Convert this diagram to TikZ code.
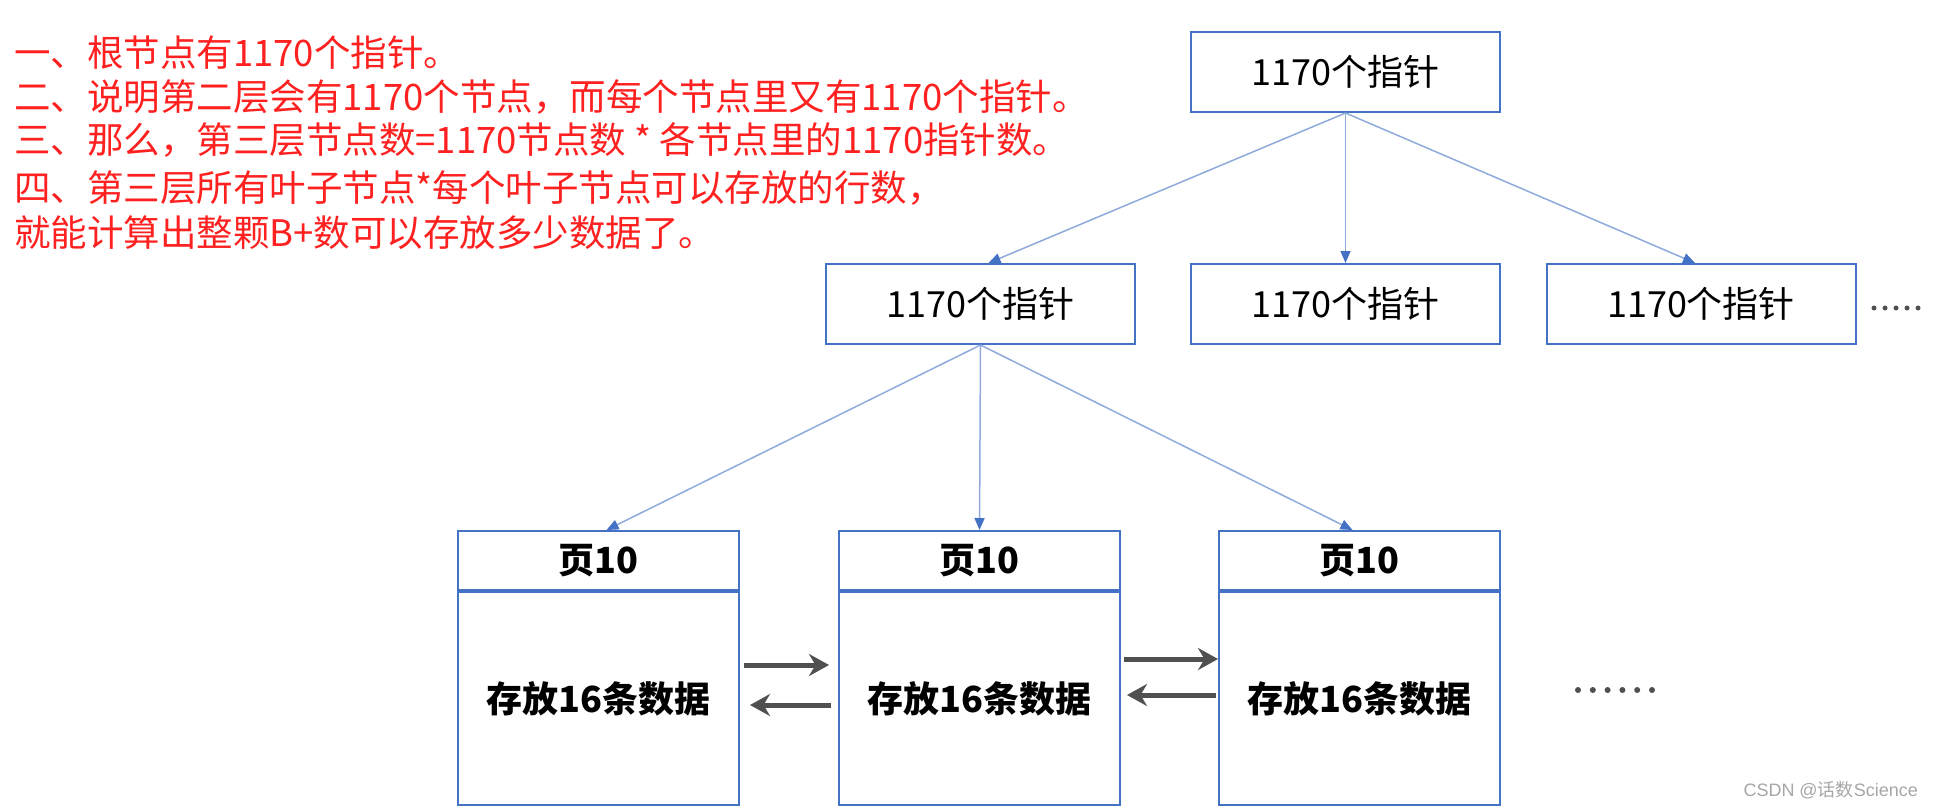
\documentclass[tikz,border=0pt]{standalone}
\usepackage{fontspec}
\setmainfont{Noto Sans CJK SC}
\newfontfamily\wmfont{Liberation Sans}
\usetikzlibrary{arrows.meta}
\definecolor{boxblue}{HTML}{4472C4}
\definecolor{lineblue}{HTML}{8FAADC}
\definecolor{notered}{HTML}{FF2020}
\definecolor{linkgray}{HTML}{505050}

\begin{document}
\begin{tikzpicture}[x=1pt, y=-1pt, >={Stealth[round]},
    box/.style={draw=boxblue, line width=2pt, minimum width=309pt, minimum height=80pt, font=\fontsize{36}{40}\selectfont},
    page/.style={draw=boxblue, line width=2pt, minimum width=281pt, font=\bfseries\fontsize{36}{40}\selectfont},
    note/.style={anchor=west, inner sep=0pt, text=notered, font=\fontsize{36.5}{40}\selectfont},
    ptr/.style={lineblue, line width=1.5pt, -{Triangle[length=12pt, width=10pt, color=boxblue]}},
    link/.style={linkgray, line width=5pt, -{Stealth[length=20pt, width=22pt]}}]
    \useasboundingbox (0,0) rectangle (1934,808);

    % Notes
    \node[note] (t1) at (14,53) {一、根节点有1170个指针。};
    \node[note] (t2) at (14,97) {二、说明第二层会有1170个节点，而每个节点里又有1170个指针。};
    \node[note] (t3) at (14,140) {三、那么，第三层节点数=1170节点数 * 各节点里的1170指针数。};
    \node[note] (t4) at (14,188) {四、第三层所有叶子节点*每个叶子节点可以存放的行数，};
    \node[note] (t5) at (14,233) {就能计算出整颗B+数可以存放多少数据了。};

    % Define tree nodes
    \node[box] (r0) at (1345.5,72) {1170个指针};
    \node[box] (n1) at (980.5,304) {1170个指针};
    \node[box] (n2) at (1345.5,304) {1170个指针};
    \node[box] (n3) at (1701,304) {1170个指针};
    \foreach \i in {0,...,4} \fill[linkgray] (1874+\i*11,308) circle (2.5);

    % Define pages
    \node[page, minimum height=59pt] (p1) at (598.5,560.5) {页10};
    \node[page, minimum height=213pt, anchor=north] (d1) at (p1.south) {存放16条数据};
    \node[page, minimum height=59pt] (p2) at (979.5,560.5) {页10};
    \node[page, minimum height=213pt, anchor=north] (d2) at (p2.south) {存放16条数据};
    \node[page, minimum height=59pt] (p3) at (1359.5,560.5) {页10};
    \node[page, minimum height=213pt, anchor=north] (d3) at (p3.south) {存放16条数据};
    \foreach \i in {0,...,5} \fill[linkgray] (1578+\i*14.8,690) circle (3);

    % Draw pointers
    \draw[ptr] (r0.south) -- ([xshift=8pt]n1.north);
    \draw[ptr] (r0.south) -- (n2.north);
    \draw[ptr] (r0.south) -- ([xshift=-6pt]n3.north);
    \draw[ptr] (n1.south) -- ([xshift=8pt]p1.north);
    \draw[ptr] (n1.south) -- (p2.north);
    \draw[ptr] (n1.south) -- ([xshift=-7pt]p3.north);

    % Draw page links
    \draw[link, shorten <=4pt, shorten >=9pt] ([yshift=33.5pt]d1.east) -- ([yshift=33.5pt]d2.west);
    \draw[link, shorten <=7pt, shorten >=10pt] ([yshift=-6.5pt]d2.west) -- ([yshift=-6.5pt]d1.east);
    \draw[link, shorten <=3pt] ([yshift=39.5pt]d2.east) -- ([yshift=39.5pt]d3.west);
    \draw[link, shorten <=2pt, shorten >=6pt] ([yshift=3.5pt]d3.west) -- ([yshift=3.5pt]d2.east);

    \node[anchor=east, inner sep=0pt, text=gray!70, font=\wmfont\fontsize{18}{20}\selectfont] (wm) at (1918,790) {CSDN @{\rmfamily 话数}Science};
\end{tikzpicture}
\end{document}
